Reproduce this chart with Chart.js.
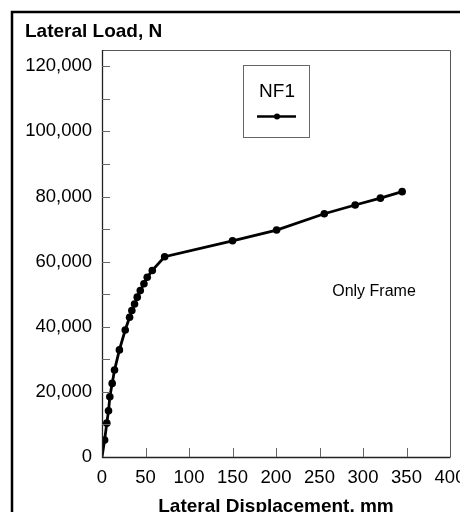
<!DOCTYPE html>
<html>
<head>
<meta charset="utf-8">
<script src="https://cdn.jsdelivr.net/npm/chart.js@4"></script>
<style>
  html, body { margin: 0; padding: 0; background: #fff; }
  canvas { display: block; }
</style>
</head>
<body>
<canvas id="c" width="460" height="512"></canvas>
<script>
// ---- data ----
const seriesName = "NF1";
const displacementMm = [0, 3, 5.5, 7.5, 9, 11.7, 14.4, 20, 26.7, 31.7, 34.3, 37.4, 40.5, 44, 48.2, 52, 57.8, 72, 150, 200.7, 255.5, 291, 320, 345];
const lateralLoadN = [0, 5200, 10400, 14200, 18500, 22600, 26700, 32900, 39000, 42900, 45000, 47000, 49100, 51100, 53200, 55200, 57300, 61500, 66400, 69700, 74700, 77400, 79500, 81500];
const xTicks = [0, 50, 100, 150, 200, 250, 300, 350, 400];
const yMajorTicks = [0, 20000, 40000, 60000, 80000, 100000, 120000];
const yMinorTicks = [10000, 30000, 50000, 70000, 90000, 110000];
const yTitle = "Lateral Load, N";
const xTitle = "Lateral Displacement, mm";
const noteText = "Only Frame";

const FONT = "Arial, 'Liberation Sans', Helvetica, sans-serif";

const points = displacementMm.map((x, i) => ({ x: x, y: lateralLoadN[i] }));

const decor = {
  id: 'decor',
  beforeDraw(chart) {
    const ctx = chart.ctx;
    ctx.save();
    ctx.fillStyle = '#fff';
    ctx.fillRect(0, 0, chart.width, chart.height);
    // outer frame (left + top)
    ctx.strokeStyle = '#000';
    ctx.lineWidth = 2.5;
    ctx.beginPath();
    ctx.moveTo(12, chart.height + 5);
    ctx.lineTo(12, 12);
    ctx.lineTo(chart.width + 5, 12);
    ctx.stroke();
    ctx.restore();
  },
  afterDatasetsDraw(chart) {
    const ctx = chart.ctx;
    const a = chart.chartArea;
    const xs = chart.scales.x, ys = chart.scales.y;
    ctx.save();
    // plot frame: top/right gray
    ctx.strokeStyle = '#555';
    ctx.lineWidth = 1;
    ctx.beginPath();
    ctx.moveTo(a.left, a.top + 0.5);
    ctx.lineTo(a.right + 0.5, a.top + 0.5);
    ctx.lineTo(a.right + 0.5, a.bottom);
    ctx.stroke();
    // axes left/bottom darker
    ctx.strokeStyle = '#222';
    ctx.lineWidth = 1.3;
    ctx.beginPath();
    ctx.moveTo(a.left + 0.5, a.top);
    ctx.lineTo(a.left + 0.5, a.bottom + 0.5);
    ctx.lineTo(a.right + 0.5, a.bottom + 0.5);
    ctx.stroke();
    // inward ticks
    ctx.strokeStyle = '#666';
    ctx.lineWidth = 1;
    ctx.beginPath();
    yMajorTicks.concat(yMinorTicks).forEach(v => {
      if (v === 0) return;
      const py = Math.round(ys.getPixelForValue(v)) + 0.5;
      ctx.moveTo(a.left, py);
      ctx.lineTo(a.left + 8, py);
    });
    xTicks.forEach(v => {
      if (v === 0 || v === 400) return;
      const px = Math.round(xs.getPixelForValue(v)) + 0.5;
      ctx.moveTo(px, a.bottom);
      ctx.lineTo(px, a.bottom - 9);
    });
    ctx.stroke();

    // y title
    ctx.fillStyle = '#000';
    ctx.font = 'bold 19px ' + FONT;
    ctx.textAlign = 'left';
    ctx.textBaseline = 'alphabetic';
    ctx.fillText(yTitle, 25, 37);

    // x title
    ctx.textAlign = 'center';
    ctx.fillText(xTitle, (a.left + a.right) / 2, 512);

    // legend box
    ctx.strokeStyle = '#666';
    ctx.lineWidth = 1;
    ctx.strokeRect(243.5, 65.5, 66, 72);
    ctx.fillStyle = '#000';
    ctx.font = '19px ' + FONT;
    ctx.textAlign = 'center';
    ctx.fillText(chart.data.datasets[0].label, 277, 97);
    ctx.strokeStyle = '#000';
    ctx.lineWidth = 2.5;
    ctx.beginPath();
    ctx.moveTo(257, 116.5);
    ctx.lineTo(296, 116.5);
    ctx.stroke();
    ctx.beginPath();
    ctx.arc(277, 116.5, 3, 0, Math.PI * 2);
    ctx.fill();

    // note
    ctx.font = '16px ' + FONT;
    ctx.textAlign = 'center';
    ctx.fillText(noteText, 374, 296);
    ctx.restore();
  }
};

new Chart(document.getElementById('c'), {
  type: 'line',
  data: {
    datasets: [{
      label: seriesName,
      data: points,
      borderColor: '#000',
      backgroundColor: '#000',
      borderWidth: 2.8,
      pointRadius: ctx => ctx.dataIndex === 0 ? 0 : 3.8,
      pointHoverRadius: 3.8,
      pointBackgroundColor: '#000',
      pointBorderWidth: 0,
      tension: 0,
      fill: false
    }]
  },
  options: {
    responsive: false,
    animation: false,
    devicePixelRatio: 1,
    layout: { padding: { left: 0, right: 10, top: 50, bottom: 0 } },
    plugins: {
      legend: { display: false },
      tooltip: { enabled: false },
      title: { display: false }
    },
    scales: {
      x: {
        type: 'linear',
        min: 0, max: 400,
        grid: { display: false, drawTicks: false },
        border: { display: false },
        afterBuildTicks(scale) { scale.ticks = xTicks.map(v => ({ value: v })); },
        ticks: {
          padding: 10,
          color: '#000',
          maxRotation: 0,
          autoSkip: false,
          font: { family: FONT, size: 18.5 },
          callback: v => String(v)
        },
        afterFit(scale) {
          scale.height = 55;
          scale.paddingLeft = 0;
          scale.paddingRight = 0;
        }
      },
      y: {
        type: 'linear',
        min: 0, max: 125000,
        grid: { display: false, drawTicks: false },
        border: { display: false },
        afterBuildTicks(scale) { scale.ticks = yMajorTicks.map(v => ({ value: v })); },
        ticks: {
          padding: 10,
          color: '#000',
          autoSkip: false,
          font: { family: FONT, size: 18.5 },
          callback: v => v.toLocaleString('en-US')
        },
        afterFit(scale) {
          scale.width = 102;
          scale.paddingTop = 0;
          scale.paddingBottom = 0;
        }
      }
    }
  },
  plugins: [decor]
});
</script>
</body>
</html>
